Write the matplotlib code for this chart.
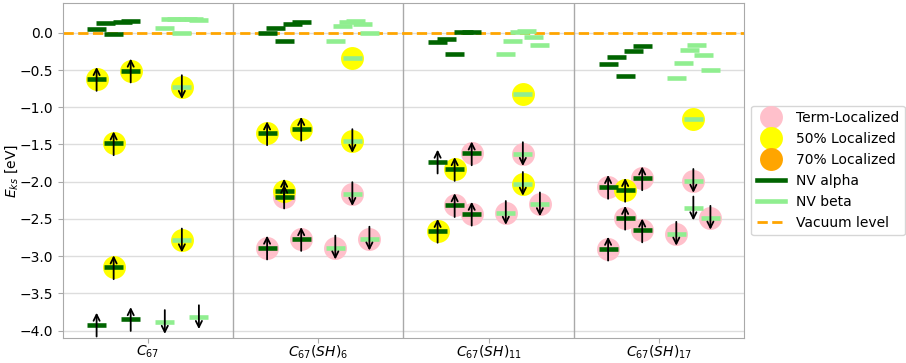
import numpy as np
import matplotlib
matplotlib.use("Agg")
import matplotlib.pyplot as plt
from matplotlib.lines import Line2D

# Systems shown along the x axis
systems = ["$C_{67}$", "$C_{67}(SH)_6$", "$C_{67}(SH)_{11}$", "$C_{67}(SH)_{17}$"]

# Occupied NV alpha levels (eV), ascending, and their localization tag
alpha_occ = [
    [-3.92, -3.845, -3.15, -1.485, -0.62, -0.507],
    [-2.885, -2.77, -2.20, -2.12, -1.35, -1.29],
    [-2.66, -2.43, -2.315, -1.83, -1.73, -1.62],
    [-2.90, -2.655, -2.485, -2.11, -2.07, -1.955],
]
alpha_occ_loc = [
    ["", "", "50", "50", "50", "50"],
    ["T", "T", "T", "50", "50", "50"],
    ["50", "T", "T", "50", "", "T"],
    ["T", "T", "T", "50", "T", "T"],
]

# Occupied NV beta levels (eV), ascending, and their localization tag
beta_occ = [
    [-3.885, -3.82, -2.79, -0.73],
    [-2.885, -2.765, -2.167, -1.455],
    [-2.42, -2.305, -2.03, -1.63],
    [-2.70, -2.485, -2.36, -1.99],
]
beta_occ_loc = [
    ["", "", "50", "50"],
    ["T", "T", "T", "50"],
    ["T", "T", "50", "T"],
    ["T", "T", "", "T"],
]

# Localized empty beta level (50% localized), None if absent
beta_loc_empty = [None, -0.34, -0.825, -1.16]

# Delocalized empty levels near the vacuum level (eV), in band order
alpha_empty = [
    [0.05, 0.13, -0.02, 0.14, 0.16],
    [0.0, 0.07, -0.117, 0.12, 0.14],
    [-0.12, -0.085, -0.29, 0.004, 0.013],
    [-0.417, -0.323, -0.574, -0.247, -0.175],
]
beta_empty = [
    [0.07, 0.19, 0.19, 0.0, 0.185, 0.18, 0.17],
    [-0.108, 0.085, 0.15, 0.16, 0.12, 0.0],
    [-0.29, -0.112, 0.01, 0.027, -0.058, -0.166],
    [-0.61, -0.41, -0.23, -0.17, -0.305, -0.50],
]

loc_colors = {"T": "pink", "50": "yellow", "70": "orange"}
alpha_col = "darkgreen"
beta_col = "lightgreen"
slot_order = [0, 2, 1, 1, 0, 2]
half_w = 0.056
bar_lw = 3.3
marker_size = 16.5
arrow_half = 0.16

fig = plt.figure(figsize=(9.06, 3.63), dpi=100)
ax = fig.add_axes([62.5 / 906, 1 - 338 / 363, 682 / 906, 335 / 363])


def draw_circle(x, e, tag, z):
    if tag:
        ax.plot(x, e, "o", ms=marker_size, color=loc_colors[tag], mec="none",
                zorder=z)


def draw_level(x, e, color):
    ax.hlines(e, x - half_w, x + half_w, colors=color, lw=bar_lw, zorder=3)


def draw_arrow(x, e, up):
    lo, hi = e - arrow_half, e + arrow_half
    start, end = (lo, hi) if up else (hi, lo)
    ax.annotate("", xy=(x, end), xytext=(x, start),
                arrowprops=dict(arrowstyle="->", color="black", lw=1.3,
                                shrinkA=0, shrinkB=0, mutation_scale=11),
                zorder=4)


for i in range(len(systems)):
    # occupied levels sit in three slots per spin channel
    xs_a = [i + 0.2 + 0.1 * slot_order[k] for k in range(len(alpha_occ[i]))]
    xs_b = [i + 0.6 + 0.1 * slot_order[k] for k in range(len(beta_occ[i]))]
    # localization circles: term-localized below 50%-localized
    for tag, z in (("T", 2.0), ("50", 2.1), ("70", 2.2)):
        for x, e, t in zip(xs_a, alpha_occ[i], alpha_occ_loc[i]):
            if t == tag:
                draw_circle(x, e, t, z)
        for x, e, t in zip(xs_b, beta_occ[i], beta_occ_loc[i]):
            if t == tag:
                draw_circle(x, e, t, z)
    if beta_loc_empty[i] is not None:
        draw_circle(i + 0.7, beta_loc_empty[i], "50", 2.1)
        draw_level(i + 0.7, beta_loc_empty[i], beta_col)

    for x, e in zip(xs_a, alpha_occ[i]):
        draw_level(x, e, alpha_col)
        draw_arrow(x, e, True)
    for x, e in zip(xs_b, beta_occ[i]):
        draw_level(x, e, beta_col)
        draw_arrow(x, e, False)

    # delocalized empty levels spread across each spin half
    xa = i + np.linspace(0.2, 0.4, len(alpha_empty[i]))
    for x, e in zip(xa, alpha_empty[i]):
        draw_level(x, e, alpha_col)
    xb = i + np.linspace(0.6, 0.8, len(beta_empty[i]))
    for x, e in zip(xb, beta_empty[i]):
        draw_level(x, e, beta_col)

ax.axhline(0.0, color="orange", ls="--", lw=2, zorder=2.5)
for xv in range(1, len(systems)):
    ax.axvline(xv, color="darkgray", lw=1, zorder=1)

ax.set_xlim(0, len(systems))
ax.set_ylim(-4.1, 0.4)
ax.set_xticks(np.arange(len(systems)) + 0.5)
ax.set_xticklabels(systems, fontsize=10)
ax.set_yticks(np.arange(-4.0, 0.01, 0.5))
ax.tick_params(axis="both", labelsize=10, color="darkgray")
ax.tick_params(axis="x", pad=0.8)
ax.set_ylabel("$E_{ks}$ [eV]", fontsize=10)
ax.yaxis.set_label_coords(-0.063, 0.5)
ax.yaxis.grid(True, color="#dddddd", lw=1)
ax.set_axisbelow(True)
for s in ax.spines.values():
    s.set_color("darkgray")

handles = [
    Line2D([], [], marker="o", ls="", ms=marker_size, color="pink", mec="none",
           label="Term-Localized"),
    Line2D([], [], marker="o", ls="", ms=marker_size, color="yellow", mec="none",
           label="50% Localized"),
    Line2D([], [], marker="o", ls="", ms=marker_size, color="orange", mec="none",
           label="70% Localized"),
    Line2D([], [], color=alpha_col, lw=bar_lw, label="NV alpha"),
    Line2D([], [], color=beta_col, lw=bar_lw, label="NV beta"),
    Line2D([], [], color="orange", ls="--", lw=2, label="Vacuum level"),
]
ax.legend(handles=handles, loc="center left", bbox_to_anchor=(1.0, 0.5),
          fontsize=10)

fig.savefig("out.png", dpi=100)
